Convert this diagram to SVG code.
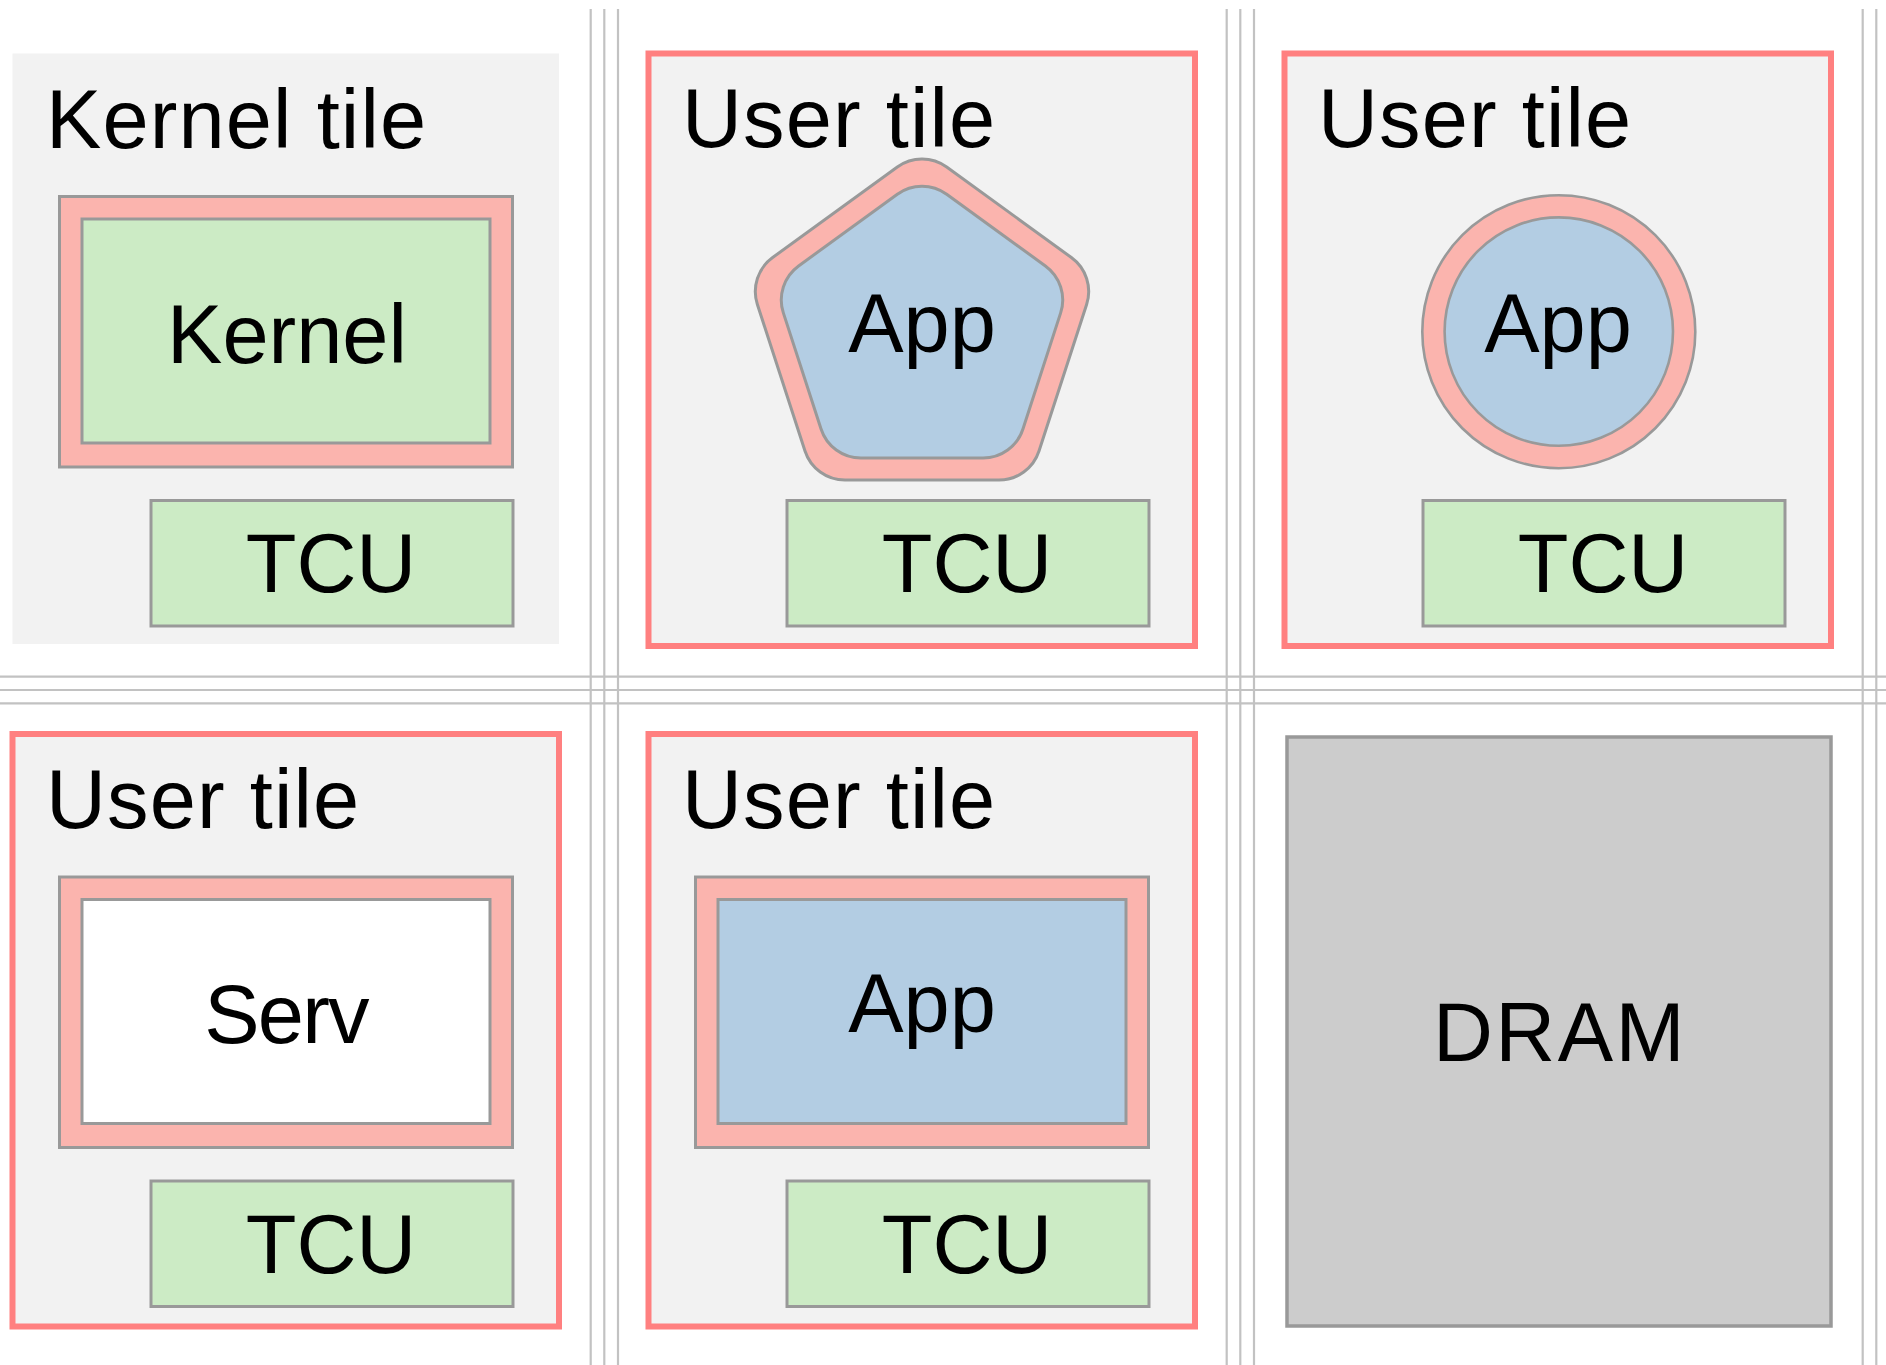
<svg xmlns="http://www.w3.org/2000/svg" width="1886" height="1365" viewBox="0 0 1886 1365">
<style>
  .grid line { stroke: #c2c2c2; stroke-width: 2.2; }
  .tile { fill: #f2f2f2; }
  .utile { fill: #f2f2f2; stroke: #ff8080; stroke-width: 6; }
  .box { stroke: #999999; stroke-width: 3; }
  .pink { fill: #fbb4ae; }
  .green { fill: #ccebc5; }
  .blue { fill: #b3cde3; }
  .white { fill: #ffffff; }
  .dram { fill: #cccccc; stroke: #999999; stroke-width: 3.5; }
  text { font-family: "Liberation Sans", Arial, sans-serif; font-size: 83px; fill: #000000; }
  .c { text-anchor: middle; }
  .t { letter-spacing: 1.1px; }
</style>
<rect x="0" y="0" width="1886" height="1365" fill="#ffffff"/>
<g id="grid" class="grid">
  <line x1="590.7" y1="9" x2="590.7" y2="1365"/>
  <line x1="604.3" y1="9" x2="604.3" y2="1365"/>
  <line x1="618" y1="9" x2="618" y2="1365"/>
  <line x1="1226.7" y1="9" x2="1226.7" y2="1365"/>
  <line x1="1240.3" y1="9" x2="1240.3" y2="1365"/>
  <line x1="1254" y1="9" x2="1254" y2="1365"/>
  <line x1="1862.7" y1="9" x2="1862.7" y2="1365"/>
  <line x1="1876.3" y1="9" x2="1876.3" y2="1365"/>
  <line x1="0" y1="676.7" x2="1886" y2="676.7"/>
  <line x1="0" y1="690" x2="1886" y2="690"/>
  <line x1="0" y1="703.3" x2="1886" y2="703.3"/>
</g>
<g id="connectors"></g>
<g id="kernel-tile">
  <rect class="tile" x="12.5" y="53.5" width="546.5" height="590.5"/>
  <text class="t" x="46" y="148">Kernel tile</text>
  <g id="kernel">
    <rect class="box pink" x="59.5" y="196.5" width="453" height="270.5"/>
    <rect class="box green" x="82" y="219" width="408" height="224"/>
    <text class="c" x="287" y="363">Kernel</text>
  </g>
  <g id="tcu1">
    <rect class="box green" x="151" y="500.5" width="362" height="125.5"/>
    <text class="c" x="331" y="592">TCU</text>
  </g>
</g>
<g id="user-tile-pentagon">
  <rect class="utile" x="648.5" y="53.5" width="546.5" height="592.5"/>
  <text class="t" x="682" y="147">User tile</text>
  <g id="app-pentagon">
    <path class="box pink" d="M 897.32,166.93 A 42 42 0 0 1 946.68,166.93 L 1071.36,257.52 A 42 42 0 0 1 1086.61,304.47 L 1039.0,451.03 A 42 42 0 0 1 999.06,480.05 L 844.94,480.05 A 42 42 0 0 1 805.0,451.03 L 757.39,304.47 A 42 42 0 0 1 772.64,257.52 Z"/>
    <path class="box blue" d="M 897.32,194.23 A 42 42 0 0 1 946.68,194.23 L 1045.40,265.96 A 42 42 0 0 1 1060.65,312.91 L 1022.95,428.94 A 42 42 0 0 1 983.01,457.96 L 860.99,457.96 A 42 42 0 0 1 821.05,428.94 L 783.35,312.91 A 42 42 0 0 1 798.60,265.96 Z"/>
    <text class="c" x="922" y="352">App</text>
  </g>
  <g id="tcu2">
    <rect class="box green" x="787" y="500.5" width="362" height="125.5"/>
    <text class="c" x="967" y="592">TCU</text>
  </g>
</g>
<g id="user-tile-circle">
  <rect class="utile" x="1284.5" y="53.5" width="546.5" height="592.5"/>
  <text class="t" x="1318" y="147">User tile</text>
  <g id="app-circle">
    <circle class="pink" cx="1558.8" cy="331.7" r="136.5" stroke="#999999" stroke-width="2.6"/>
    <circle class="blue" cx="1558.8" cy="331.6" r="114.2" stroke="#999999" stroke-width="2.6"/>
    <text class="c" x="1558" y="352">App</text>
  </g>
  <g id="tcu3">
    <rect class="box green" x="1423" y="500.5" width="362" height="125.5"/>
    <text class="c" x="1603" y="592">TCU</text>
  </g>
</g>
<g id="user-tile-serv">
  <rect class="utile" x="12.5" y="734" width="546.5" height="592.5"/>
  <text class="t" x="46" y="828">User tile</text>
  <g id="serv">
    <rect class="box pink" x="59.5" y="877" width="453" height="270.5"/>
    <rect class="box white" x="82" y="899.5" width="408" height="224"/>
    <text class="c" x="286" y="1043" style="letter-spacing:-1.8px">Serv</text>
  </g>
  <g id="tcu4">
    <rect class="box green" x="151" y="1181" width="362" height="125.5"/>
    <text class="c" x="331" y="1272.5">TCU</text>
  </g>
</g>
<g id="user-tile-app">
  <rect class="utile" x="648.5" y="734" width="546.5" height="592.5"/>
  <text class="t" x="682" y="828">User tile</text>
  <g id="app-rect">
    <rect class="box pink" x="695.5" y="877" width="453" height="270.5"/>
    <rect class="box blue" x="718" y="899.5" width="408" height="224"/>
    <text class="c" x="922" y="1032">App</text>
  </g>
  <g id="tcu5">
    <rect class="box green" x="787" y="1181" width="362" height="125.5"/>
    <text class="c" x="967" y="1272.5">TCU</text>
  </g>
</g>
<g id="dram">
  <rect class="dram" x="1287" y="737" width="544" height="589"/>
  <text class="c" x="1560" y="1061" style="letter-spacing:2.4px">DRAM</text>
</g>
</svg>
